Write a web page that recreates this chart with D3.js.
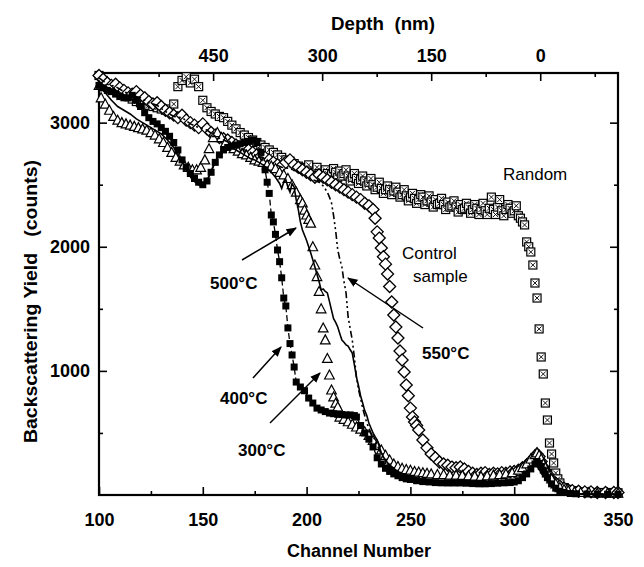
<!DOCTYPE html>
<html>
<head>
<meta charset="utf-8">
<script src="https://cdn.jsdelivr.net/npm/d3@7/dist/d3.min.js"></script>
<style>
  body { margin: 0; background: #fff; }
  svg text { font-family: "Liberation Sans", Arial, sans-serif; fill: #000; }
</style>
</head>
<body>
<div id="chart"></div>
<script>
// data, [channel, counts]
const randomData = [[100,3380],[102,3340],[104,3310],[106,3300],[108,3270],[110,3250],[112,3240],[114,3210],[116,3190],[118,3170],[120,3160],[122,3150],[124,3140],[126,3130],[128,3120],[130,3110],[132,3100],[134,3110],[136,3150],[138,3290],[140,3340],[142,3370],[144,3320],[146,3350],[148,3290],[150,3180],[152,3120],[154,3090],[156,3070],[158,3050],[160,3040],[162,3010],[164,2980],[166,2950],[168,2920],[170,2900],[172,2880],[174,2860],[176,2840],[178,2820],[180,2800],[182,2780],[184,2760],[186,2740],[188,2720],[190,2700],[192,2690],[194,2670],[196,2650],[198,2640],[200,2620],[201,2660],[202,2610],[203,2580],[204,2600],[205,2640],[206,2590],[207,2560],[208,2580],[209,2620],[210,2590],[211,2550],[212,2580],[213,2630],[214,2600],[215,2560],[216,2610],[217,2570],[218,2590],[219,2620],[220,2570],[221,2530],[222,2560],[223,2590],[224,2550],[225,2510],[226,2540],[227,2570],[228,2530],[229,2490],[230,2520],[231,2550],[232,2500],[233,2460],[234,2480],[235,2520],[236,2470],[237,2430],[238,2460],[239,2490],[240,2460],[241,2420],[242,2450],[243,2480],[244,2440],[245,2400],[246,2420],[247,2460],[248,2410],[249,2370],[250,2400],[251,2430],[252,2390],[253,2350],[254,2380],[255,2420],[256,2400],[257,2340],[258,2370],[259,2410],[260,2360],[261,2320],[262,2380],[263,2340],[264,2350],[265,2390],[266,2340],[267,2300],[268,2360],[269,2320],[270,2330],[271,2370],[272,2320],[273,2280],[274,2340],[275,2300],[276,2310],[277,2350],[278,2320],[279,2270],[280,2300],[281,2340],[282,2310],[283,2260],[284,2300],[285,2350],[286,2290],[287,2260],[288,2310],[289,2400],[290,2300],[291,2260],[292,2320],[293,2380],[294,2290],[295,2250],[296,2300],[297,2340],[298,2310],[299,2270],[300,2290],[301,2330],[302,2250],[303,2230],[304,2200],[305,2176],[306,2039],[307,2000],[308,1958],[309,1853],[310,1708],[311,1587],[312,1338],[313,1112],[314,975],[315,741],[316,604],[317,419],[318,330],[319,258],[320,177],[321,130],[322,97],[324,60],[326,45],[328,35],[330,30],[333,25],[336,25],[339,20],[342,20],[345,20],[348,18],[350,18]];

const controlData = [[100,3380],[102,3350],[104,3320],[106,3300],[108,3310],[110,3280],[112,3260],[114,3240],[116,3230],[118,3250],[120,3220],[122,3200],[124,3170],[126,3150],[128,3160],[130,3130],[132,3100],[134,3080],[136,3060],[138,3040],[140,3060],[142,3020],[144,3000],[146,2980],[148,2960],[150,2990],[152,2950],[154,2920],[156,2900],[158,2880],[160,2870],[162,2860],[164,2840],[166,2820],[168,2800],[170,2790],[172,2780],[174,2760],[176,2740],[178,2730],[180,2720],[182,2700],[184,2680],[186,2660],[188,2650],[190,2680],[192,2700],[194,2660],[196,2640],[198,2620],[200,2600],[202,2580],[204,2560],[206,2580],[208,2560],[210,2540],[212,2520],[214,2500],[216,2480],[218,2460],[220,2440],[222,2420],[224,2400],[226,2380],[228,2350],[230,2330],[232,2300],[233,2230],[234,2120],[235,2070],[236,1990],[237,1920],[238,1860],[239,1780],[240,1680],[241,1555],[242,1450],[243,1354],[244,1265],[245,1160],[246,1088],[247,991],[248,886],[249,800],[250,700],[251,628],[252,588],[253,560],[254,524],[256,443],[258,380],[260,330],[262,300],[264,266],[266,250],[268,240],[270,225],[272,220],[274,226],[276,210],[278,190],[280,175],[282,165],[284,175],[286,180],[288,165],[290,175],[292,170],[294,180],[296,175],[298,185],[300,190],[302,200],[304,220],[306,240],[308,275],[310,310],[311,330],[312,310],[313,270],[314,226],[315,200],[316,170],[318,121],[320,95],[322,70],[324,55],[326,40],[328,35],[331,30],[334,25],[337,25],[340,20],[344,20],[348,20],[350,20]];

const t300Data = [[100,3300],[101,3200],[103,3150],[105,3100],[107,3050],[109,3020],[111,3000],[113,2990],[115,2980],[117,2970],[119,2960],[121,2950],[123,2940],[125,2920],[127,2900],[129,2870],[131,2840],[133,2800],[135,2760],[137,2720],[139,2690],[141,2660],[143,2640],[145,2620],[147,2620],[149,2640],[151,2700],[153,2790],[155,2880],[157,2920],[159,2880],[161,2840],[163,2810],[165,2790],[167,2770],[169,2750],[171,2740],[173,2720],[175,2700],[177,2690],[179,2680],[181,2660],[183,2650],[185,2630],[187,2600],[189,2580],[191,2550],[193,2500],[195,2440],[197,2380],[198,2353],[199,2296],[200,2256],[201,2220],[202,2190],[203,2000],[204,1853],[205,1760],[206,1640],[207,1500],[208,1346],[209,1250],[210,1100],[211,967],[212,846],[213,790],[214,740],[215,709],[216,628],[218,610],[220,590],[222,570],[224,548],[226,530],[228,510],[230,480],[232,440],[234,400],[236,363],[238,320],[240,282],[242,250],[244,230],[246,215],[248,205],[250,200],[252,190],[254,185],[256,180],[258,175],[260,170],[263,165],[266,165],[269,160],[272,160],[275,158],[278,155],[281,152],[284,150],[287,155],[290,160],[293,165],[296,170],[299,180],[302,200],[304,220],[306,250],[308,290],[310,325],[311,340],[312,320],[313,290],[314,250],[315,220],[316,180],[318,130],[320,90],[322,60],[324,45],[326,35],[329,25],[332,20],[336,20],[340,15],[345,15],[350,15]];

const t400Data = [[100,3300],[102,3280],[104,3260],[106,3250],[108,3230],[110,3210],[112,3200],[114,3200],[116,3220],[118,3180],[120,3130],[122,3080],[124,3040],[126,3010],[128,2990],[130,2960],[132,2930],[134,2890],[136,2840],[138,2780],[140,2700],[142,2640],[144,2590],[146,2550],[148,2520],[150,2500],[152,2530],[154,2600],[156,2680],[158,2740],[160,2780],[162,2800],[164,2810],[166,2820],[168,2830],[170,2840],[172,2850],[174,2860],[176,2840],[178,2760],[180,2620],[181,2520],[182,2430],[183,2256],[184,2200],[185,2100],[186,1974],[187,1880],[188,1750],[189,1587],[190,1523],[191,1346],[192,1220],[193,1128],[194,1031],[195,910],[197,870],[199,840],[201,781],[203,741],[205,700],[207,685],[209,672],[211,660],[213,655],[215,650],[217,648],[219,645],[221,645],[223,640],[224,628],[226,560],[228,500],[230,450],[232,387],[234,300],[236,250],[238,215],[240,190],[242,170],[244,155],[246,140],[248,130],[250,125],[253,115],[256,108],[259,105],[262,100],[265,98],[268,97],[271,97],[274,97],[277,95],[280,92],[283,90],[286,90],[289,92],[292,95],[295,98],[298,100],[300,105],[302,115],[304,140],[306,170],[308,210],[310,250],[311,270],[312,255],[313,230],[314,200],[315,170],[316,140],[318,90],[320,55],[322,30],[324,20],[327,12],[330,10],[335,8],[340,8],[345,6],[350,6]];

const t500Data = [[100,3300],[103,3240],[106,3180],[109,3130],[112,3100],[115,3070],[118,3030],[121,3000],[124,2970],[127,2940],[130,2910],[133,2860],[136,2800],[139,2720],[141,2660],[143,2590],[145,2540],[147,2510],[149,2490],[151,2510],[153,2570],[155,2650],[157,2720],[159,2770],[161,2790],[163,2800],[165,2790],[167,2770],[169,2750],[171,2730],[173,2710],[175,2700],[177,2680],[179,2660],[181,2630],[183,2600],[185,2560],[187,2510],[188,2470],[189,2520],[190,2540],[191,2480],[192,2440],[193,2510],[194,2480],[195,2377],[196,2300],[197,2200],[198,2135],[200,2050],[202,1950],[204,1837],[206,1720],[207,1652],[208,1660],[209,1640],[210,1628],[211,1560],[212,1490],[213,1420],[214,1390],[215,1354],[216,1300],[217,1249],[218,1230],[219,1210],[220,1200],[221,1170],[222,1144],[223,1050],[224,951],[225,880],[226,800],[227,741],[228,680],[229,640],[230,580],[231,540],[232,500],[233,470],[234,443],[235,390],[236,340],[237,306],[238,280],[240,242],[243,200],[246,170],[250,150],[255,130],[260,115],[265,105],[270,100],[275,95],[280,90],[285,90],[290,88],[295,90],[300,100],[303,120],[306,170],[309,240],[311,280],[313,240],[315,180],[317,120],[319,70],[321,40],[323,20],[326,10],[330,5],[340,5],[350,5]];

const t550Data = [[100,3360],[104,3310],[108,3290],[112,3250],[116,3220],[120,3200],[124,3160],[128,3140],[132,3090],[136,3050],[140,3040],[144,2990],[148,2960],[152,2940],[156,2890],[160,2860],[164,2830],[168,2790],[172,2770],[176,2730],[180,2710],[184,2670],[188,2640],[192,2630],[196,2600],[200,2570],[203,2540],[206,2520],[208,2490],[210,2440],[211,2400],[212,2353],[213,2250],[214,2130],[215,1974],[216,1900],[217,1837],[218,1720],[219,1628],[220,1434],[221,1340],[222,1249],[223,1112],[224,950],[225,850],[226,780],[227,700],[228,640],[229,580],[230,540],[231,500],[233,443],[235,363],[237,300],[239,250],[241,215],[244,185],[247,165],[250,150],[255,130],[260,115],[265,105],[270,100],[280,95],[290,95],[300,105],[305,160],[308,220],[311,290],[313,250],[315,180],[317,120],[319,70],[321,40],[324,20],[328,10],[335,8],[350,6]];

const channelTicks = [100, 150, 200, 250, 300, 350];
const channelMinor = [125, 175, 225, 275, 325];
const yieldTicks = [1000, 2000, 3000];
const yieldMinor = [500, 1500, 2500];
const depthTicks = [450, 300, 150, 0];
const depthMinor = [525, 375, 225, 75, -75];

const margin = { top: 73, right: 26, bottom: 72, left: 99 };
const width = 644 - margin.left - margin.right;
const height = 567 - margin.top - margin.bottom;

const svg = d3.select("#chart")
    .append("svg")
    .attr("width", 644)
    .attr("height", 567)
    .append("g")
    .attr("transform", `translate(${margin.left}, ${margin.top})`);

const x = d3.scaleLinear().domain([100, 350]).range([0, width]);
const y = d3.scaleLinear().domain([0, 3400]).range([height, 0]);
// depth (nm) on top: surface (0 nm) sits near channel 312
const xTop = d3.scaleLinear().domain([607, -107]).range([0, width]);

// axes, ticks pointing inward
function styleAxis(g) {
    g.select(".domain").remove();
    g.selectAll(".tick line").attr("stroke", "#000").attr("stroke-width", 1.6);
    g.selectAll(".tick text")
        .style("font-size", "18px")
        .style("font-weight", "bold");
}

svg.append("g")
    .attr("transform", `translate(0, ${height})`)
    .call(d3.axisBottom(x).tickValues(channelTicks).tickSize(-8).tickPadding(18).tickFormat(d3.format("d")))
    .call(styleAxis);
svg.append("g")
    .attr("transform", `translate(0, ${height})`)
    .call(d3.axisBottom(x).tickValues(channelMinor).tickSize(-4).tickFormat(""))
    .call(styleAxis);

svg.append("g")
    .call(d3.axisLeft(y).tickValues(yieldTicks).tickSize(-8).tickPadding(9).tickFormat(d3.format("d")))
    .call(styleAxis);
svg.append("g")
    .call(d3.axisLeft(y).tickValues(yieldMinor).tickSize(-4).tickFormat(""))
    .call(styleAxis);

svg.append("g")
    .attr("transform", `translate(${width}, 0)`)
    .call(d3.axisRight(y).tickValues(yieldTicks).tickSize(-8).tickFormat(""))
    .call(styleAxis);
svg.append("g")
    .attr("transform", `translate(${width}, 0)`)
    .call(d3.axisRight(y).tickValues(yieldMinor).tickSize(-4).tickFormat(""))
    .call(styleAxis);

svg.append("g")
    .call(d3.axisTop(xTop).tickValues(depthTicks).tickSize(-8).tickPadding(11).tickFormat(d3.format("d")))
    .call(styleAxis);
svg.append("g")
    .call(d3.axisTop(xTop).tickValues(depthMinor).tickSize(-4).tickFormat(""))
    .call(styleAxis);

// frame
svg.append("rect")
    .attr("width", width)
    .attr("height", height)
    .attr("fill", "none")
    .attr("stroke", "#000")
    .attr("stroke-width", 2.2);

// axis titles
svg.append("text")
    .attr("x", 331 - margin.left)
    .attr("y", 30 - margin.top)
    .attr("textLength", 104)
    .attr("lengthAdjust", "spacingAndGlyphs")
    .style("font-size", "19px")
    .style("font-weight", "bold")
    .style("white-space", "pre")
    .text("Depth  (nm)");

svg.append("text")
    .attr("x", 359 - margin.left)
    .attr("y", height + 62)
    .attr("text-anchor", "middle")
    .style("font-size", "18px")
    .style("font-weight", "bold")
    .text("Channel Number");

svg.append("text")
    .attr("transform", "rotate(-90)")
    .attr("x", -(443 - margin.top))
    .attr("y", 37 - margin.left)
    .attr("textLength", 283)
    .attr("lengthAdjust", "spacingAndGlyphs")
    .style("font-size", "19px")
    .style("font-weight", "bold")
    .style("white-space", "pre")
    .text("Backscattering Yield   (counts)");

// markers
const px = d => x(d[0]);
const py = d => y(d[1]);

svg.selectAll(".rnd")
    .data(randomData)
    .enter().append("g")
    .attr("class", "rnd")
    .attr("transform", d => `translate(${px(d)}, ${py(d)})`)
    .each(function () {
        const g = d3.select(this);
        g.append("rect").attr("x", -4).attr("y", -4).attr("width", 8).attr("height", 8)
            .attr("fill", "#fff").attr("stroke", "#000").attr("stroke-width", 1.2);
        g.append("path").attr("d", "M-2.5,-2.5L2.5,2.5M2.5,-2.5L-2.5,2.5")
            .attr("stroke", "#000").attr("stroke-width", 0.9);
    });

svg.selectAll(".ctrl")
    .data(controlData)
    .enter().append("path")
    .attr("class", "ctrl")
    .attr("transform", d => `translate(${px(d)}, ${py(d)})`)
    .attr("d", "M0,-6L6,0L0,6L-6,0Z")
    .attr("fill", "#fff")
    .attr("stroke", "#000")
    .attr("stroke-width", 1.3);

svg.selectAll(".tri")
    .data(t300Data)
    .enter().append("path")
    .attr("class", "tri")
    .attr("transform", d => `translate(${px(d)}, ${py(d)})`)
    .attr("d", "M0,-5L4.8,4L-4.8,4Z")
    .attr("fill", "#fff")
    .attr("stroke", "#000")
    .attr("stroke-width", 1.2);

const line = d3.line().x(px).y(py);

svg.append("path")
    .datum(t400Data)
    .attr("d", line)
    .attr("fill", "none")
    .attr("stroke", "#000")
    .attr("stroke-width", 1.3)
    .attr("stroke-dasharray", "6,3");

svg.selectAll(".sq")
    .data(t400Data)
    .enter().append("rect")
    .attr("class", "sq")
    .attr("x", d => px(d) - 3.5)
    .attr("y", d => py(d) - 3.5)
    .attr("width", 7)
    .attr("height", 7)
    .attr("fill", "#000");

svg.append("path")
    .datum(t500Data)
    .attr("d", line)
    .attr("fill", "none")
    .attr("stroke", "#000")
    .attr("stroke-width", 1.6);

svg.append("path")
    .datum(t550Data)
    .attr("d", line)
    .attr("fill", "none")
    .attr("stroke", "#000")
    .attr("stroke-width", 1.6)
    .attr("stroke-dasharray", "7,3,2,3,2,3");

// annotations
svg.append("defs").append("marker")
    .attr("id", "arrow")
    .attr("viewBox", "0 0 10 10")
    .attr("refX", 9)
    .attr("refY", 5)
    .attr("markerWidth", 7)
    .attr("markerHeight", 7)
    .attr("orient", "auto")
    .append("path")
    .attr("d", "M0,1L10,5L0,9Z")
    .attr("fill", "#000");

const arrows = [
    [[242, 260], [296, 228]],
    [[253, 378], [281, 347]],
    [[270, 423], [320, 373]],
    [[423, 328], [348, 278]]
];
arrows.forEach(a => {
    svg.append("line")
        .attr("x1", a[0][0] - margin.left).attr("y1", a[0][1] - margin.top)
        .attr("x2", a[1][0] - margin.left).attr("y2", a[1][1] - margin.top)
        .attr("stroke", "#000")
        .attr("stroke-width", 1.5)
        .attr("marker-end", "url(#arrow)");
});

const notes = [
    { t: "500°C", x: 210, y: 289, bold: true },
    { t: "400°C", x: 220, y: 404, bold: true },
    { t: "300°C", x: 238, y: 456, bold: true },
    { t: "550°C", x: 422, y: 359, bold: true },
    { t: "Control", x: 402, y: 259, bold: false },
    { t: "sample", x: 413, y: 282, bold: false },
    { t: "Random", x: 503, y: 180, bold: false }
];
notes.forEach(n => {
    svg.append("text")
        .attr("x", n.x - margin.left)
        .attr("y", n.y - margin.top)
        .style("font-size", "17px")
        .style("font-weight", n.bold ? "bold" : "normal")
        .text(n.t);
});
</script>
</body>
</html>
